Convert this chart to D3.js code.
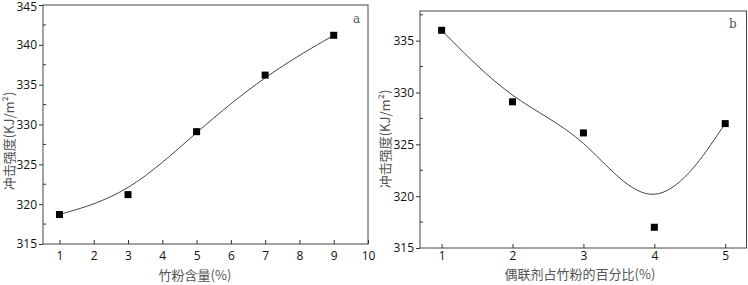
<!DOCTYPE html>
<html>
<head>
<meta charset="utf-8">
<script src="https://cdn.jsdelivr.net/npm/d3@7"></script>
<style>
  body { margin: 0; background: #fff; }
  svg { display: block; }
</style>
</head>
<body>
<div id="chart"></div>
<script>
const width = 748;
const height = 285;

// panel a: bamboo powder content
const contentA = [1, 3, 5, 7, 9];
const strengthA = [318.7, 321.2, 329.1, 336.2, 341.2];
const xTicksA = [1, 2, 3, 4, 5, 6, 7, 8, 9, 10];
const yTicksA = [315, 320, 325, 330, 335, 340, 345];

// panel b: coupling agent percentage
const couplingB = [1, 2, 3, 4, 5];
const strengthB = [336.0, 329.1, 326.1, 317.0, 327.0];
const xTicksB = [1, 2, 3, 4, 5];
const yTicksB = [315, 320, 325, 330, 335];

const yTitle = '冲击强度(KJ/m²)';
const tickFont = '"Open Sans", "Liberation Sans", sans-serif';
const cjkFont = '"Noto Sans CJK SC", "Noto Sans", sans-serif';
const grey = '#555';

const svg = d3.select('#chart').append('svg')
    .attr('width', width)
    .attr('height', height);

function drawPanel(cfg) {
    const x = d3.scaleLinear().domain(cfg.xDomain).range([cfg.left, cfg.right]);
    const y = d3.scaleLinear().domain(cfg.yDomain).range([cfg.bottom, cfg.top]);
    const g = svg.append('g');

    // frame
    g.append('rect')
        .attr('x', cfg.left).attr('y', cfg.top)
        .attr('width', cfg.right - cfg.left).attr('height', cfg.bottom - cfg.top)
        .attr('fill', 'none').attr('stroke', '#444').attr('stroke-width', 1);

    // x axis: inward ticks
    const xAxis = g.append('g')
        .attr('transform', `translate(0,${cfg.bottom})`)
        .call(d3.axisBottom(x).tickValues(cfg.xTicks).tickFormat(d3.format('d'))
            .tickSizeInner(-4).tickSizeOuter(0).tickPadding(cfg.xPad));
    xAxis.select('.domain').remove();
    xAxis.selectAll('line').attr('stroke', '#333');
    xAxis.selectAll('text').style('font-family', tickFont).style('font-size', '12px').attr('fill', '#111');

    // y axis: outward major ticks
    const yAxis = g.append('g')
        .attr('transform', `translate(${cfg.left},0)`)
        .call(d3.axisLeft(y).tickValues(cfg.yTicks).tickFormat(d3.format('d'))
            .tickSizeInner(4).tickSizeOuter(0).tickPadding(2));
    yAxis.select('.domain').remove();
    yAxis.selectAll('line').attr('stroke', '#333');
    yAxis.selectAll('text').style('font-family', tickFont).style('font-size', '12px').attr('fill', '#111')
        // keep a label right at the top edge inside the picture
        .attr('dy', d => y(d) < 7 ? '0.45em' : '0.32em');

    // y minor ticks, inward
    const minor = d3.range(cfg.yDomain[0] + 2.5, cfg.yDomain[1], 5);
    g.append('g').selectAll('line').data(minor).join('line')
        .attr('x1', cfg.left).attr('x2', cfg.left + 3)
        .attr('y1', d => y(d)).attr('y2', d => y(d))
        .attr('stroke', '#333');

    // smoothed line
    const line = d3.line()
        .x(d => x(d[0])).y(d => y(d[1]))
        .curve(d3.curveBasis);
    const pts = cfg.xs.map((v, i) => [v, cfg.ys[i]]);
    g.append('path')
        .attr('d', line(pts))
        .attr('fill', 'none')
        .attr('stroke', '#444')
        .attr('stroke-width', 1);

    // markers
    g.append('g').selectAll('rect').data(pts).join('rect')
        .attr('x', d => x(d[0]) - 3.5)
        .attr('y', d => y(d[1]) - 3.5)
        .attr('width', 7).attr('height', 7)
        .attr('fill', '#000');

    // axis titles
    g.append('text')
        .attr('x', cfg.xTitleX).attr('y', cfg.xTitleY)
        .attr('text-anchor', 'middle')
        .style('font-family', cjkFont).style('font-size', '13px')
        .attr('fill', grey)
        .text(cfg.xTitle);

    g.append('text')
        .attr('transform', `translate(${cfg.yTitleX},${cfg.yTitleY}) rotate(-90)`)
        .attr('text-anchor', 'middle')
        .attr('dy', '0.35em')
        .style('font-family', cjkFont).style('font-size', '13px')
        .attr('fill', grey)
        .text(yTitle);

    // panel letter
    g.append('text')
        .attr('x', cfg.labelX).attr('y', cfg.labelY)
        .style('font-family', '"DejaVu Serif", "Liberation Serif", serif')
        .style('font-size', '12px')
        .attr('fill', grey)
        .text(cfg.label);
}

drawPanel({
    left: 43, right: 368, top: 5, bottom: 244,
    xDomain: [0.52, 10], yDomain: [315, 345],
    xTicks: xTicksA, yTicks: yTicksA, xPad: 7,
    xs: contentA, ys: strengthA,
    xTitle: '竹粉含量(%)', xTitleX: 195, xTitleY: 280,
    yTitleX: 9, yTitleY: 141,
    label: 'a', labelX: 353, labelY: 23
});

drawPanel({
    left: 420, right: 746.5, top: 11, bottom: 248,
    xDomain: [0.695, 5.3], yDomain: [315, 337.86],
    xTicks: xTicksB, yTicks: yTicksB, xPad: 3,
    xs: couplingB, ys: strengthB,
    xTitle: '偶联剂占竹粉的百分比(%)', xTitleX: 580, xTitleY: 279,
    yTitleX: 385, yTitleY: 139,
    label: 'b', labelX: 729, labelY: 28
});
</script>
</body>
</html>
